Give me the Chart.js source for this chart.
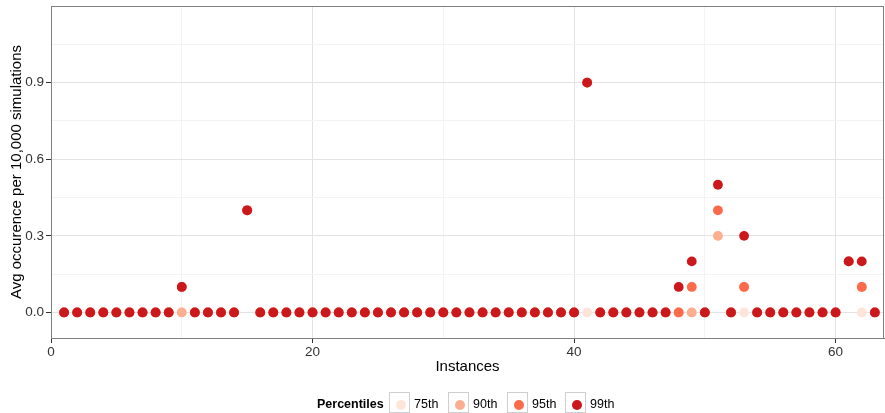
<!DOCTYPE html>
<html>
<head>
<meta charset="utf-8">
<script src="https://cdn.jsdelivr.net/npm/chart.js@4/dist/chart.umd.min.js"></script>
<style>
  html, body { margin: 0; padding: 0; background: #fff; }
  #wrap { position: relative; width: 885px; height: 413px; overflow: hidden; font-family: "Liberation Sans", Arial, sans-serif; }
  #c { position: absolute; left: 0; top: 0; }
  .lg { position: absolute; font-size: 12.5px; color: #000; line-height: 14px; }
  .lgt { font-weight: bold; }
  .box { position: absolute; width: 21px; height: 21px; border: 1px solid #cfcfcf; background: #fff; box-sizing: border-box; }
  .dot { position: absolute; width: 10px; height: 10px; border-radius: 50%; left: 5.5px; top: 6.5px; }
</style>
</head>
<body>
<div id="wrap">
  <canvas id="c" width="885" height="413"></canvas>
</div>
<script>
// ---- data ----
const instances = [1,2,3,4,5,6,7,8,9,10,11,12,13,14,15,16,17,18,19,20,21,22,23,24,25,26,27,28,29,30,31,32,33,34,35,36,37,38,39,40,41,42,43,44,45,46,47,48,49,50,51,52,53,54,55,56,57,58,59,60,61,62,63];
const p75 = [0,0,0,0,0,0,0,0,0,0,  0,0,0,0,0.4,0,0,0,0,0,0,0,0,0,0,0,0,0,0,0,0,0,0,0,0,0,0,0,0,0,0,  0,0,0,0,0,0,0,  0,  0,0.3,0,0,  0,0,0,0,0,0,0,0.2,0,  0];
const p90 = [0,0,0,0,0,0,0,0,0,0,  0,0,0,0,0.4,0,0,0,0,0,0,0,0,0,0,0,0,0,0,0,0,0,0,0,0,0,0,0,0,0,0.9,0,0,0,0,0,0,0,  0,  0,0.3,0,0.1,0,0,0,0,0,0,0,0.2,0.1,0];
const p95 = [0,0,0,0,0,0,0,0,0,0.1,0,0,0,0,0.4,0,0,0,0,0,0,0,0,0,0,0,0,0,0,0,0,0,0,0,0,0,0,0,0,0,0.9,0,0,0,0,0,0,0,  0.1,0,0.4,0,0.1,0,0,0,0,0,0,0,0.2,0.1,0];
const p99 = [0,0,0,0,0,0,0,0,0,0.1,0,0,0,0,0.4,0,0,0,0,0,0,0,0,0,0,0,0,0,0,0,0,0,0,0,0,0,0,0,0,0,0.9,0,0,0,0,0,0,0.1,0.2,0,0.5,0,0.3,0,0,0,0,0,0,0,0.2,0.2,0];
const seriesNames = ["75th", "90th", "95th", "99th"];
const seriesValues = [p75, p90, p95, p99];
const seriesColors = ["#FEE5D9", "#FCAE91", "#FB6A4A", "#CB181D"];
const xMajorTicks = [0, 20, 40, 60];
const xMinorTicks = [10, 30, 50];
const yMajorTicks = [0, 0.3, 0.6, 0.9];
const yMinorTicks = [0.15, 0.45, 0.75, 1.05];
const xTitle = "Instances";
const yTitle = "Avg occurence per 10,000 simulations";
const legendTitle = "Percentiles";

// ---- chart ----
const FONT = "'Liberation Sans', Arial, sans-serif";
const isIn = (arr, v) => arr.some(a => Math.abs(a - v) < 1e-9);

const datasets = seriesNames.map((name, i) => ({
  label: name,
  data: instances.map((x, j) => ({ x: x, y: seriesValues[i][j] })),
  backgroundColor: seriesColors[i],
  borderWidth: 0,
  pointRadius: 4.9,
  pointHoverRadius: 4.9,
  order: seriesNames.length - 1 - i
}));

const panelBorder = {
  id: 'panelBorder',
  afterDraw(chart) {
    const a = chart.chartArea, ctx = chart.ctx;
    ctx.save();
    ctx.strokeStyle = '#7f7f7f';
    ctx.lineWidth = 1;
    ctx.strokeRect(Math.round(a.left) + 0.5, Math.round(a.top) + 0.5, Math.round(a.right - a.left) - 1, Math.round(a.bottom - a.top));
    ctx.restore();
  }
};

function zeroPad(s) { s.paddingTop = 0; s.paddingBottom = 0; s.paddingLeft = 0; s.paddingRight = 0; }

new Chart(document.getElementById('c'), {
  type: 'scatter',
  data: { datasets },
  plugins: [panelBorder],
  options: {
    responsive: false,
    animation: false,
    devicePixelRatio: 1,
    events: [],
    layout: { autoPadding: false, padding: { top: 6, right: 1, bottom: 33, left: 0 } },
    plugins: { legend: { display: false }, tooltip: { enabled: false } },
    scales: {
      x: {
        type: 'linear',
        min: 0,
        max: 63.7,
        afterBuildTicks(s) { s.ticks = xMajorTicks.concat(xMinorTicks).sort((a, b) => a - b).map(v => ({ value: v })); },
        afterFit(s) { s.height = 42; zeroPad(s); },
        grid: {
          color: c => isIn(xMajorTicks, c.tick.value) ? '#e3e3e3' : '#f3f3f3',
          tickColor: c => isIn(xMajorTicks, c.tick.value) ? '#333333' : 'rgba(0,0,0,0)',
          tickLength: 5,
          lineWidth: 1
        },
        border: { display: true, color: '#7f7f7f', width: 1 },
        ticks: {
          autoSkip: false,
          maxRotation: 0,
          padding: 1,
          color: '#333333',
          font: { family: FONT, size: 13.5 },
          callback: v => isIn(xMajorTicks, v) ? String(v) : ''
        },
        title: { display: true, text: xTitle, color: '#000', font: { family: FONT, size: 15 }, padding: { top: 2, bottom: 4 } }
      },
      y: {
        type: 'linear',
        min: -0.1,
        max: 1.2,
        afterBuildTicks(s) { s.ticks = yMajorTicks.concat(yMinorTicks).sort((a, b) => a - b).map(v => ({ value: v })); },
        afterFit(s) { s.width = 51; zeroPad(s); },
        grid: {
          color: c => isIn(yMajorTicks, c.tick.value) ? '#e3e3e3' : '#f3f3f3',
          tickColor: c => isIn(yMajorTicks, c.tick.value) ? '#333333' : 'rgba(0,0,0,0)',
          tickLength: 5,
          lineWidth: 1
        },
        border: { display: true, color: '#7f7f7f', width: 1 },
        ticks: {
          autoSkip: false,
          padding: 2,
          color: '#333333',
          font: { family: FONT, size: 13.5 },
          callback: v => isIn(yMajorTicks, v) ? Number(v).toFixed(1) : ''
        },
        title: { display: true, text: yTitle, color: '#000', font: { family: FONT, size: 15 }, padding: { top: 8, bottom: 2 } }
      }
    }
  }
});

// ---- legend (HTML text) ----
const wrap = document.getElementById('wrap');
const lgTop = 392;
const t = document.createElement('div');
t.className = 'lg lgt';
t.textContent = legendTitle;
t.style.left = '317px';
t.style.top = (lgTop + 5) + 'px';
wrap.appendChild(t);
const boxLefts = [389, 448, 507, 565];
seriesNames.forEach((name, i) => {
  const b = document.createElement('div');
  b.className = 'box';
  b.style.left = boxLefts[i] + 'px';
  b.style.top = lgTop + 'px';
  const d = document.createElement('div');
  d.className = 'dot';
  d.style.background = seriesColors[i];
  b.appendChild(d);
  wrap.appendChild(b);
  const l = document.createElement('div');
  l.className = 'lg';
  l.textContent = name;
  l.style.left = (boxLefts[i] + 25) + 'px';
  l.style.top = (lgTop + 5) + 'px';
  wrap.appendChild(l);
});
</script>
</body>
</html>
